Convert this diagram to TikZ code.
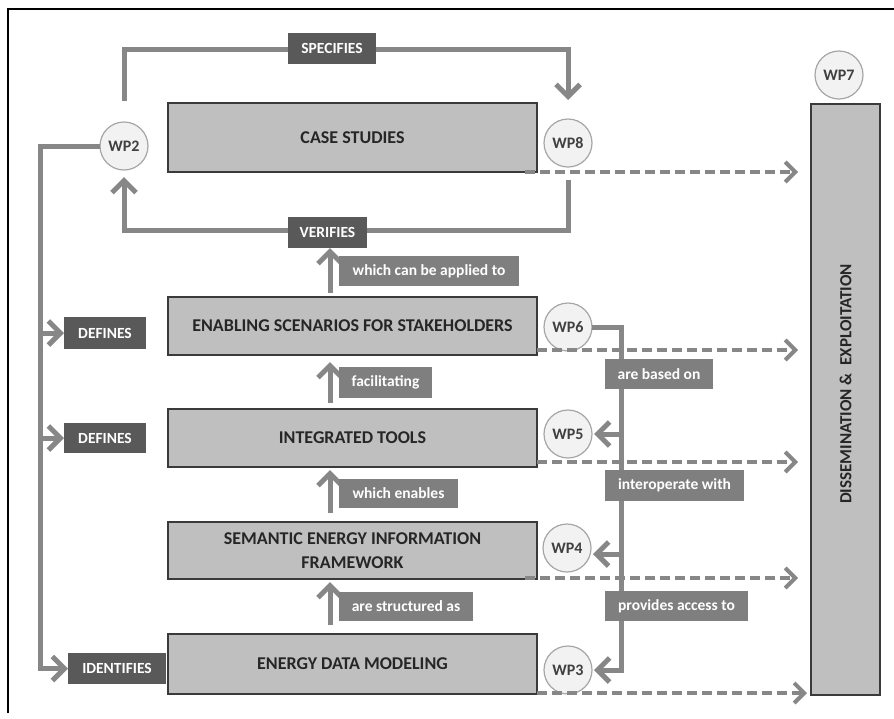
\documentclass[tikz,border=0pt]{standalone}
\usepackage{fontspec}
\setmainfont{Carlito}
\usetikzlibrary{arrows.meta,calc}
\definecolor{boxfill}{HTML}{BFBFBF}
\definecolor{boxline}{HTML}{3A3A3A}
\definecolor{darklab}{HTML}{595959}
\definecolor{midlab}{HTML}{7F7F7F}
\definecolor{conng}{HTML}{878787}
\definecolor{circfill}{HTML}{F2F2F2}
\definecolor{circline}{HTML}{A6A6A6}
\definecolor{wptext}{HTML}{404040}
\begin{document}
\begin{tikzpicture}[x=1pt,y=-1pt,
  mainbox/.style={draw=boxline, line width=1.2pt, fill=boxfill, inner sep=0pt, outer sep=0pt,
    font=\fontsize{18}{24}\selectfont\bfseries, text=black!85, align=center},
  wpc/.style={circle, draw=circline, line width=1.2pt, fill=circfill, minimum size=48pt,
    inner sep=0pt, outer sep=0pt, font=\fontsize{16}{18}\selectfont\bfseries, text=wptext},
  darktag/.style={fill=darklab, text=white, inner sep=0pt, outer sep=0pt,
    font=\fontsize{15.5}{18}\selectfont\bfseries},
  midtag/.style={fill=midlab, text=white, inner sep=0pt, outer sep=0pt,
    font=\fontsize{15.5}{18}\selectfont\bfseries},
  conn/.style={draw=conng, line width=5pt},
  flowarrow/.style={-{Straight Barb[length=12pt,width=24pt]}},
  dashconn/.style={draw=conng, line width=4pt, dash pattern=on 10pt off 5pt,
    -{Straight Barb[length=10pt,width=20pt]}}
]
\useasboundingbox (0,0) rectangle (894,718);
% frame (top and left edges)
\draw[line width=2pt, black] (8,713) -- (8,9) -- (894,9);

% main boxes
\node[mainbox, minimum width=369pt, minimum height=69pt] (cs) at (352.5,137.5) {CASE STUDIES};
\node[mainbox, minimum width=369pt, minimum height=58pt] (enab) at (352.5,326) {ENABLING SCENARIOS FOR STAKEHOLDERS};
\node[mainbox, minimum width=369pt, minimum height=58pt] (integ) at (352.5,438) {INTEGRATED TOOLS};
\node[mainbox, minimum width=369pt, minimum height=57pt] (sem) at (352.5,550.5) {SEMANTIC ENERGY INFORMATION\\FRAMEWORK};
\node[mainbox, minimum width=369pt, minimum height=60pt] (edm) at (352.5,664) {ENERGY DATA MODELING};
\node[mainbox, minimum width=69pt, minimum height=591pt] (de) at (845.5,399.5) {};
\node[rotate=90, font=\fontsize{17}{20}\selectfont\bfseries, text=black!85] (detxt) at (845.5,384) {DISSEMINATION \&\ \ EXPLOITATION};

% work package circles
\node[wpc] (wp2) at (124,146) {WP2};
\node[wpc] (wp8) at (568,143) {WP8};
\node[wpc] (wp7) at (839,75) {WP7};
\node[wpc] (wp6) at (568,327) {WP6};
\node[wpc] (wp5) at (568,434) {WP5};
\node[wpc] (wp4) at (567,548) {WP4};
\node[wpc] (wp3) at (568,670) {WP3};

% dashed arrows to dissemination
\draw[dashconn, shorten >=13pt] ([xshift=-12pt]cs.south east) -- (cs.south east -| de.west);
\draw[dashconn, shorten >=13pt] ([yshift=5pt]enab.south east) -- ([yshift=5pt]enab.south east -| de.west);
\draw[dashconn, shorten >=13pt] ([yshift=5pt]integ.south east) -- ([yshift=5pt]integ.south east -| de.west);
\draw[dashconn, shorten >=13pt] ([xshift=-12pt,yshift=1pt]sem.south east) -- ([yshift=1pt]sem.south east -| de.west);
\draw[dashconn, shorten >=4pt] ([yshift=1pt]edm.south east) -- ([yshift=1pt]edm.south east -| de.west);

% specifies / verifies loop
\coordinate (s1) at (124,101);
\coordinate (s2) at (568,100);
\draw[conn, flowarrow] (s1) -- ++(0,-52) -| (s2);
\coordinate (v1) at (568,180);
\coordinate (v2) at (124,177);
\draw[conn, flowarrow] (v1) -- ++(0,50) -| (v2);

% upward arrows
\coordinate (ax) at (330,0);
\node[darktag, minimum width=79pt, minimum height=31pt] (verif) at (327.5,232.5) {VERIFIES};
\draw[conn, flowarrow, shorten <=4pt] (ax |- enab.north) -- (ax |- verif.south);
\draw[conn, flowarrow, shorten <=6pt, shorten >=7pt] (ax |- integ.north) -- (ax |- enab.south);
\draw[conn, flowarrow, shorten <=9pt, shorten >=3pt] (ax |- sem.north) -- (ax |- integ.south);
\draw[conn, flowarrow, shorten <=9pt, shorten >=3pt] (ax |- edm.north) -- (ax |- sem.south);

% left trunk from WP2
\node[darktag, minimum width=82pt, minimum height=32pt] (def1) at (105,333) {DEFINES};
\node[darktag, minimum width=82pt, minimum height=30pt] (def2) at (105,438) {DEFINES};
\node[darktag, minimum width=98pt, minimum height=31pt] (ident) at (117,668.5) {IDENTIFIES};
\coordinate (trunk) at (40,146);
\draw[conn, flowarrow] (wp2.west) -- (trunk) |- (ident.west);
\draw[conn, flowarrow] (trunk |- def1.west) -- (def1.west);
\draw[conn, flowarrow] (trunk |- def2.west) -- (def2.west);

% right trunk from WP6
\coordinate (rt) at (621,327);
\draw[conn, flowarrow, shorten >=2pt] (wp6.east) -- (rt) |- (wp3.east);
\draw[conn, flowarrow, shorten >=2pt] (rt |- wp5.east) -- (wp5.east);
\draw[conn, flowarrow, shorten >=2pt] ([yshift=-6pt]rt |- wp4.east) -- ([yshift=-6pt]wp4.east);

% labels on top
\node[darktag, minimum width=88pt, minimum height=31pt] (spec) at (332,48.5) {SPECIFIES};
\node[midtag, minimum width=180pt, minimum height=30pt] (l1) at (429,271) {which can be applied to};
\node[midtag, minimum width=93pt, minimum height=31pt] (l2) at (385.5,382.5) {facilitating};
\node[midtag, minimum width=119pt, minimum height=29pt] (l3) at (398.5,493.5) {which enables};
\node[midtag, minimum width=134pt, minimum height=29pt] (l4) at (406,606.5) {are structured as};
\node[midtag, minimum width=108pt, minimum height=30pt] (r1) at (659,374) {are based on};
\node[midtag, minimum width=139pt, minimum height=31pt] (r2) at (674.5,485.5) {interoperate with};
\node[midtag, minimum width=143pt, minimum height=30pt] (r3) at (676.5,606) {provides access to};
\end{tikzpicture}
\end{document}
